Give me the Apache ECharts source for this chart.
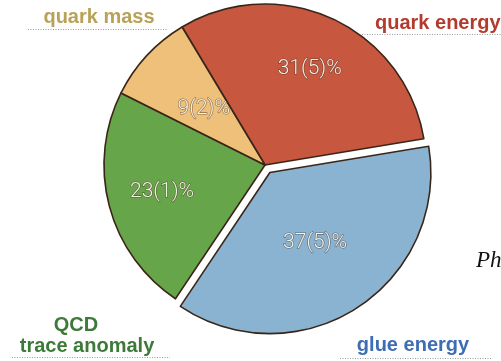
<!DOCTYPE html>
<html>
<head>
<meta charset="utf-8">
<script src="https://cdn.jsdelivr.net/npm/echarts@6/dist/echarts.min.js"></script>
<style>html,body{margin:0;padding:0;background:#fff;}#c{width:501px;height:361px;}</style>
</head>
<body>
<div id="c"></div>
<script>
const categories = ['quark energy', 'glue energy', 'QCD trace anomaly', 'quark mass'];
const values = [31, 37, 23, 9];
const valueLabels = ['31(5)%', '37(5)%', '23(1)%', '9(2)%'];
const outerLabels = ['quark energy', 'glue energy', 'QCD\ntrace anomaly', 'quark mass'];
const sliceColors = ['#c7573f', '#8ab3d2', '#67a54a', '#eec07a'];
const labelColors = ['#b23b2d', '#3d6db3', '#3d7a39', '#b8a258'];
const explodedIndex = 1;
const innerLabelSet = [1, 3];   // labels placed at half radius
const outerLabelSet = [0, 2];   // labels placed further out

const chart = echarts.init(document.getElementById('c'), null, {renderer: 'canvas'});

const labelStyle = {
  color: '#f4f0e6',
  fontSize: 21,
  fontWeight: 300,
  fontFamily: 'Roboto, "Liberation Sans", sans-serif',
  textBorderColor: 'rgba(60,40,25,0.55)',
  textBorderWidth: 1.2
};

const mainData = categories.map((c, i) => ({
  name: c,
  value: values[i],
  selected: i === explodedIndex,
  itemStyle: {color: sliceColors[i]},
  label: Object.assign({show: innerLabelSet.includes(i), position: 'inside', formatter: valueLabels[i]}, labelStyle)
}));

const overlayData = categories.map((c, i) => ({
  name: c,
  value: values[i],
  label: Object.assign({show: outerLabelSet.includes(i), position: 'inside', formatter: valueLabels[i]}, labelStyle)
}));

const font = {fontSize: 20, fontWeight: 'bold', fontFamily: '"Liberation Sans", Arial, sans-serif'};
function txt(text, x, y, fill, align) {
  return {type: 'text', x: x, y: y, silent: true, z: 10,
    style: Object.assign({text: text, fill: fill, align: align || 'center', verticalAlign: 'middle'}, font)};
}
function dots(x1, x2, y) {
  return {type: 'line', silent: true, z: 10,
    shape: {x1: x1, y1: y, x2: x2, y2: y},
    style: {stroke: '#9a9a9a', lineWidth: 1, lineDash: [1, 1.5]}};
}
const qcdLines = outerLabels[2].split('\n');

chart.setOption({
  backgroundColor: '#ffffff',
  animation: false,
  series: [
    {
      type: 'pie',
      center: [265, 165],
      radius: [0, 161],
      startAngle: 121,
      clockwise: true,
      selectedMode: 'single',
      selectedOffset: 9,
      avoidLabelOverlap: false,
      labelLine: {show: false},
      itemStyle: {borderColor: '#3a2618', borderWidth: 1.6},
      emphasis: {disabled: true},
      data: mainData,
      z: 2
    },
    {
      type: 'pie',
      center: [265, 165],
      radius: [46, 161],
      startAngle: 121,
      clockwise: true,
      silent: true,
      avoidLabelOverlap: false,
      labelLine: {show: false},
      itemStyle: {color: 'rgba(0,0,0,0)', borderWidth: 0},
      emphasis: {disabled: true},
      data: overlayData,
      z: 3
    }
  ],
  graphic: [
    txt(outerLabels[3], 99, 17, labelColors[3]),
    dots(28, 168, 29.5),
    txt(outerLabels[0], 375, 23, labelColors[0], 'left'),
    dots(362, 501, 34.5),
    txt(qcdLines[0], 76, 325, labelColors[2]),
    txt(qcdLines[1], 87, 346, labelColors[2]),
    dots(12, 170, 357.5),
    txt(outerLabels[1], 413, 345, labelColors[1]),
    dots(340, 492, 358.5),
    {type: 'text', x: 476, y: 272, silent: true,
      style: {text: 'Ph', fill: '#111', fontSize: 23, fontStyle: 'italic',
        fontFamily: '"Liberation Serif", "DejaVu Serif", serif', align: 'left', verticalAlign: 'bottom'}}
  ]
});
</script>
</body>
</html>
